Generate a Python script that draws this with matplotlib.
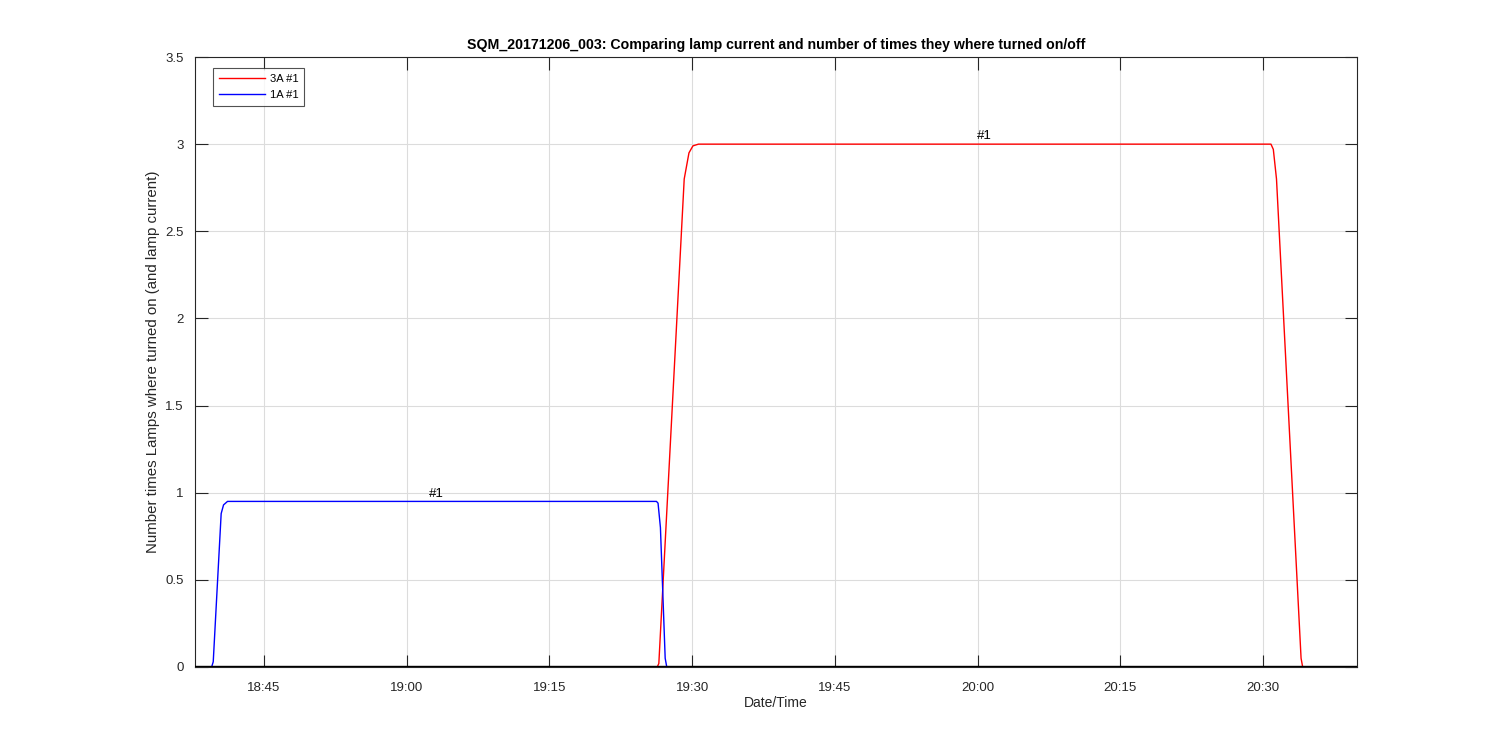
import matplotlib
matplotlib.use("Agg")
import matplotlib.pyplot as plt
import matplotlib.dates as mdates
import numpy as np
from datetime import datetime

plt.rcParams['font.family'] = ['Liberation Sans', 'DejaVu Sans']

def T(s):
    return datetime.strptime("2017-12-06 " + s, "%Y-%m-%d %H:%M:%S")

# 3A #1 lamp (red)
red_times = ["18:37:45", "19:26:20", "19:26:30", "19:29:10", "19:29:40", "19:30:05",
             "19:30:40", "20:30:50", "20:31:05", "20:31:25", "20:34:00", "20:34:10", "20:39:55"]
red_vals = [0.0, 0.0, 0.02, 2.80, 2.95, 2.99, 3.0, 3.0, 2.97, 2.80, 0.05, 0.0, 0.0]

# 1A #1 lamp (blue)
blue_times = ["18:37:45", "18:39:30", "18:39:40", "18:40:30", "18:40:45", "18:41:10",
              "19:26:15", "19:26:25", "19:26:40", "19:27:10", "19:27:20", "20:39:55"]
blue_vals = [0.0, 0.0, 0.03, 0.88, 0.93, 0.95, 0.95, 0.94, 0.80, 0.05, 0.0, 0.0]

# baseline (black, not in legend)
black_times = ["18:37:45", "20:39:55"]
black_vals = [0.004, 0.004]

labels = ["3A #1", "1A #1"]
ann_blue = ("19:03:10", 0.95, "#1")
ann_red = ("20:00:45", 3.0, "#1")

fig = plt.figure(figsize=(15, 7.5), dpi=100)
ax = fig.add_axes([0.13, 0.1107, 0.7747, 0.8133])

ax.plot([T(t) for t in red_times], red_vals, color='red', lw=1.0, label=labels[0], zorder=3)
ax.plot([T(t) for t in blue_times], blue_vals, color='blue', lw=1.0, label=labels[1], zorder=3)
ax.plot([T(t) for t in black_times], black_vals, color='black', lw=1.0, zorder=4)

ax.text(T(ann_blue[0]), ann_blue[1] + 0.01, ann_blue[2], ha='center', va='bottom', fontsize=9.5)
ax.text(T(ann_red[0]), ann_red[1] + 0.01, ann_red[2], ha='center', va='bottom', fontsize=9.5)

ax.set_xlim(T("18:37:45"), T("20:39:53"))
ax.set_ylim(0, 3.5)
ax.set_yticks(np.arange(0, 3.51, 0.5))
ax.set_yticklabels(["0", "0.5", "1", "1.5", "2", "2.5", "3", "3.5"])
ax.xaxis.set_major_locator(mdates.MinuteLocator(byminute=[0, 15, 30, 45]))
ax.xaxis.set_major_formatter(mdates.DateFormatter("%H:%M"))

ax.grid(True, color='#dcdcdc', lw=0.8)
ax.set_axisbelow(True)
ax.tick_params(direction='in', length=9, width=0.8, top=True, right=True,
               labelsize=9.5, colors='#262626')
ax.tick_params(axis='x', pad=11)
ax.tick_params(axis='y', pad=8)
for s in ax.spines.values():
    s.set_color('#262626')
    s.set_linewidth(0.8)

ax.set_xlabel("Date/Time", fontsize=10, color='#262626', labelpad=1)
ax.set_ylabel("Number times Lamps where turned on (and lamp current)", fontsize=10.8,
              color='#262626', labelpad=4)
ax.set_title("SQM_20171206_003: Comparing lamp current and number of times they where turned on/off",
             fontsize=10.2, fontweight='bold', color='black', pad=6)

leg = ax.legend(loc='upper left', bbox_to_anchor=(0.0155, 0.982), borderaxespad=0,
                fontsize=8, frameon=True, fancybox=False, edgecolor='#262626',
                handlelength=4.2, handletextpad=0.4, borderpad=0.5, labelspacing=0.6)
leg.get_frame().set_linewidth(0.8)

fig.savefig("out.png", dpi=100, facecolor='white')
